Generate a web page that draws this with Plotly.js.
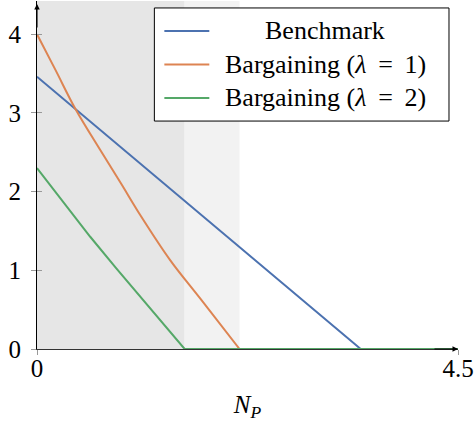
<!DOCTYPE html>
<html>
<head>
<meta charset="utf-8">
<script src="https://cdn.plot.ly/plotly-3.0.1.min.js"></script>
<style>html,body{margin:0;padding:0;background:#fff;}#chart{width:476px;height:427px;}</style>
</head>
<body>
<div id="chart"></div>
<script>
// ---- data ----
const seriesNames = ["Benchmark", "Bargaining (<i>λ</i>&#8201; = &#8201;1)", "Bargaining (<i>λ</i>&#8201; = &#8201;2)"];
const benchX = [0, 3.46, 4.5];
const benchY = [3.46, 0, 0];
const barg1X = [0, 0.2, 0.411, 0.678, 0.9, 1.105, 1.425, 1.746, 2.165];
const barg1Y = [4.0, 3.54, 3.05, 2.525, 2.10, 1.70, 1.127, 0.64, 0];
const barg2X = [0, 0.2, 0.571, 0.85, 1.123, 1.578, 4.5];
const barg2Y = [2.30, 1.99, 1.423, 1.02, 0.64, 0, 0];
const regionBounds = [0, 1.578, 2.165];
const xTickVals = [0, 4.5];
const xTickText = ["0", "4.5"];
const yTickVals = [0, 1, 2, 3, 4];
const yTickText = ["0", "1", "2", "3", "4"];

// ---- styles ----
const colors = ["#4C72B0", "#DD8452", "#55A868"];
const FONT = "Liberation Serif, DejaVu Serif, serif";
const FS = 25;
const LFS = 26;
const yMax = 4.422;
const xMax = 4.5;

const traces = [
  {x: benchX, y: benchY, mode: "lines", line: {color: colors[0], width: 2}, name: seriesNames[0], hoverinfo: "skip"},
  {x: barg1X, y: barg1Y, mode: "lines", line: {color: colors[1], width: 2, shape: "spline", smoothing: 1}, name: seriesNames[1], hoverinfo: "skip"},
  {x: barg2X, y: barg2Y, mode: "lines", line: {color: colors[2], width: 2}, name: seriesNames[2], hoverinfo: "skip"},
  {x: [0], y: [0], xaxis: "x2", yaxis: "y2", mode: "markers", marker: {opacity: 0}, hoverinfo: "skip", showlegend: false}
];

const shapes = [
  {type: "rect", xref: "x", yref: "paper", x0: regionBounds[0], x1: regionBounds[1], y0: 0, y1: 1, fillcolor: "#e6e6e6", line: {width: 0}, layer: "below"},
  {type: "rect", xref: "x", yref: "paper", x0: regionBounds[1], x1: regionBounds[2], y0: 0, y1: 1, fillcolor: "#f2f2f2", line: {width: 0}, layer: "below"},
  // legend box
  {type: "rect", xref: "paper", yref: "paper", x0: 0.2788, x1: 0.9786, y0: 0.655, y1: 0.980, fillcolor: "#ffffff", line: {color: "#000", width: 1}, layer: "above"}
];
const legendRowsY = [0.9138, 0.8175, 0.7213];
const annotations = [];
seriesNames.forEach((n, i) => {
  shapes.push({type: "line", xref: "paper", yref: "paper", x0: 0.3025, x1: 0.4093, y0: legendRowsY[i], y1: legendRowsY[i], line: {color: colors[i], width: 2}, layer: "above"});
  annotations.push({xref: "paper", yref: "paper", x: 0.6845, y: legendRowsY[i], text: n, showarrow: false, xanchor: "center", yanchor: "middle", font: {family: FONT, size: LFS, color: "#000"}});
});
// axis arrows
annotations.push({xref: "x", yref: "y", x: 0, y: 4.384, ax: 0, ay: 25, text: "", showarrow: true, arrowhead: 2, arrowsize: 1, arrowwidth: 1.1, arrowcolor: "#000"});
annotations.push({xref: "x", yref: "y", x: 4.5, y: 0, ax: -25, ay: 0, text: "", showarrow: true, arrowhead: 2, arrowsize: 1, arrowwidth: 1.1, arrowcolor: "#000"});

const layout = {
  width: 476, height: 427,
  margin: {l: 37, r: 18, t: 1, b: 78},
  paper_bgcolor: "#fff", plot_bgcolor: "#fff",
  showlegend: false,
  font: {family: FONT, size: FS, color: "#000"},
  xaxis: {
    range: [0, xMax], tickvals: xTickVals, ticktext: xTickText,
    showgrid: false, zeroline: false, showline: true, linecolor: "#333", linewidth: 1,
    ticks: "outside", ticklen: 5, tickcolor: "#999", tickwidth: 1, ticklabelstandoff: -8,
    title: {text: "<i>N</i><sub><i>P</i></sub>", font: {family: FONT, size: FS}, standoff: 14},
    fixedrange: true
  },
  yaxis: {
    range: [0, yMax], tickvals: yTickVals, ticktext: yTickText,
    showgrid: false, zeroline: false, showline: true, linecolor: "#000", linewidth: 1,
    ticks: "outside", ticklen: 5, tickcolor: "#999", tickwidth: 1, ticklabelstandoff: 5,
    fixedrange: true
  },
  xaxis2: {overlaying: "x", range: [0, xMax], tickvals: xTickVals, showticklabels: false, ticks: "inside", ticklen: 5, tickcolor: "#999", showgrid: false, zeroline: false, showline: false, anchor: "y2"},
  yaxis2: {overlaying: "y", range: [0, yMax], tickvals: yTickVals, showticklabels: false, ticks: "inside", ticklen: 5, tickcolor: "#999", showgrid: false, zeroline: false, showline: false, anchor: "x2"},
  shapes: shapes,
  annotations: annotations
};

Plotly.newPlot("chart", traces, layout, {displayModeBar: false, staticPlot: true});
</script>
</body>
</html>
